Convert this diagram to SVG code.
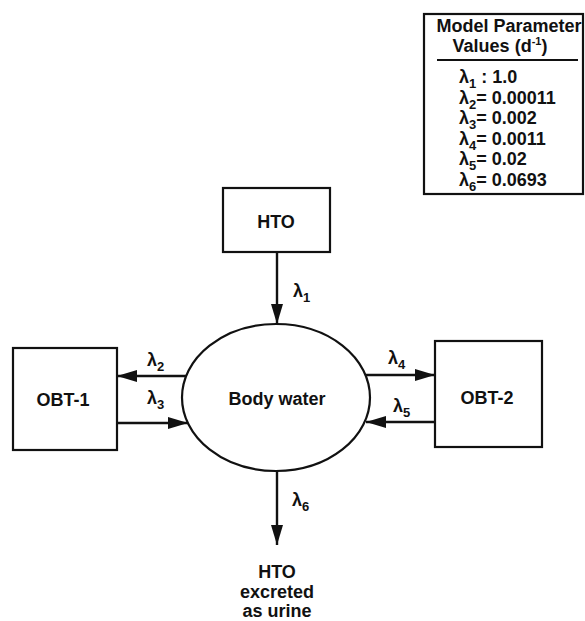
<svg xmlns="http://www.w3.org/2000/svg" width="585" height="621" viewBox="0 0 585 621">
<style>
text{font-family:"Liberation Sans",Arial,sans-serif;font-weight:bold;fill:#111;}
.lbl{font-size:18px;text-anchor:middle;}
.lam{font-size:18px;}
.sub{font-size:13px;}
.box{fill:#fff;stroke:#111;stroke-width:2.2;}
.con{stroke:#111;stroke-width:2.4;fill:none;marker-end:url(#ah);}
</style>
<defs>
<marker id="ah" markerUnits="userSpaceOnUse" markerWidth="20" markerHeight="12" refX="20" refY="6" orient="auto">
<path d="M0,0 L20,6 L0,12 z" fill="#111"/>
</marker>
</defs>
<rect width="585" height="621" fill="#fff"/>
<g id="legend">
<rect x="424" y="14" width="159" height="180" class="box"/>
<text x="509" y="32" class="lbl">Model Parameter</text>
<text x="500" y="52" class="lbl">Values (d<tspan font-size="11" dy="-7">-1</tspan><tspan dy="7">)</tspan></text>
<line x1="437" y1="60" x2="578" y2="60" stroke="#111" stroke-width="2"/>
<text x="459" y="83" class="lam">λ<tspan class="sub" dy="5">1</tspan><tspan dy="-5"> : 1.0</tspan></text>
<text x="459" y="104" class="lam">λ<tspan class="sub" dy="5">2</tspan><tspan dy="-5">= 0.00011</tspan></text>
<text x="459" y="124" class="lam">λ<tspan class="sub" dy="5">3</tspan><tspan dy="-5">= 0.002</tspan></text>
<text x="459" y="145" class="lam">λ<tspan class="sub" dy="5">4</tspan><tspan dy="-5">= 0.0011</tspan></text>
<text x="459" y="165" class="lam">λ<tspan class="sub" dy="5">5</tspan><tspan dy="-5">= 0.02</tspan></text>
<text x="459" y="186" class="lam">λ<tspan class="sub" dy="5">6</tspan><tspan dy="-5">= 0.0693</tspan></text>
</g>
<g id="hto">
<rect x="223" y="188" width="107" height="64" class="box"/>
<text x="276" y="228" class="lbl">HTO</text>
</g>
<g id="body-water">
<ellipse cx="276" cy="397.5" rx="94" ry="73.5" class="box" stroke-width="2.4"/>
<text x="277" y="405" class="lbl">Body water</text>
</g>
<g id="obt1">
<rect x="13" y="348" width="104" height="102" class="box"/>
<text x="63" y="406" class="lbl">OBT-1</text>
</g>
<g id="obt2">
<rect x="435" y="341" width="107" height="106" class="box"/>
<text x="487" y="404" class="lbl">OBT-2</text>
</g>
<g id="excreted">
<text x="277" y="578" class="lbl">HTO</text>
<text x="277" y="598" class="lbl">excreted</text>
<text x="277" y="617" class="lbl">as urine</text>
</g>
<g id="connectors">
<line x1="277" y1="252" x2="277" y2="324" class="con"/>
<line x1="186" y1="376" x2="117" y2="376" class="con"/>
<line x1="117" y1="423" x2="188" y2="423" class="con"/>
<line x1="366" y1="375" x2="435" y2="375" class="con"/>
<line x1="435" y1="422" x2="366" y2="422" class="con"/>
<line x1="277" y1="471" x2="277" y2="545" class="con"/>
<text x="293" y="297" class="lam">λ<tspan class="sub" dy="5">1</tspan></text>
<text x="147" y="366" class="lam">λ<tspan class="sub" dy="5">2</tspan></text>
<text x="147" y="404" class="lam">λ<tspan class="sub" dy="5">3</tspan></text>
<text x="388" y="364" class="lam">λ<tspan class="sub" dy="5">4</tspan></text>
<text x="393" y="412" class="lam">λ<tspan class="sub" dy="5">5</tspan></text>
<text x="292" y="506" class="lam">λ<tspan class="sub" dy="5">6</tspan></text>
</g>
</svg>
